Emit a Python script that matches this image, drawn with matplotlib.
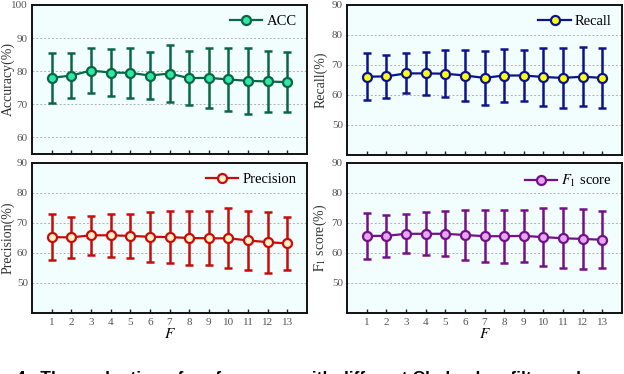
import matplotlib
matplotlib.use('Agg')
import matplotlib.pyplot as plt

plt.rcParams['font.family'] = ['Liberation Serif', 'DejaVu Serif']
plt.rcParams['mathtext.fontset'] = 'stix'

F = list(range(1, 14))

acc_mean = [78.0, 78.7, 80.2, 79.6, 79.5, 78.7, 79.3, 77.9, 78.0, 77.5, 77.1, 76.9, 76.7]
acc_std = [7.5, 6.9, 6.8, 7.0, 7.5, 7.0, 8.5, 8.1, 9.1, 9.6, 10.0, 9.3, 9.0]

rec_mean = [66.1, 66.2, 67.2, 67.2, 67.1, 66.5, 65.7, 66.5, 66.5, 66.0, 65.7, 66.1, 65.7]
rec_std = [7.75, 7.1, 6.65, 7.2, 7.9, 8.6, 8.9, 8.75, 8.4, 9.6, 10.05, 9.85, 10.1]

pre_mean = [65.3, 65.2, 65.9, 65.9, 65.7, 65.4, 65.3, 65.0, 64.9, 64.9, 64.2, 63.6, 63.2]
pre_std = [7.7, 6.95, 6.5, 7.15, 7.25, 8.35, 8.6, 9.05, 8.95, 10.0, 9.85, 10.2, 8.85]

f1_mean = [65.7, 65.7, 66.4, 66.4, 66.4, 66.0, 65.6, 65.6, 65.7, 65.3, 64.9, 64.7, 64.4]
f1_std = [7.75, 7.0, 6.45, 7.15, 7.5, 8.35, 8.7, 8.85, 8.6, 9.75, 10.0, 10.0, 9.5]

W, H = 624, 374
fig = plt.figure(figsize=(W / 100, H / 100), dpi=100)


def px_axes(left, top, right, bottom):
    return fig.add_axes([left / W, 1 - bottom / H, (right - left) / W, (bottom - top) / H])


panels = [
    # (box, mean, std, line color, face color, legend, ylabel, label center px, ylim, yticks, x labels)
    ((32, 5, 307, 154), acc_mean, acc_std, '#0b6646', '#2ee8a4', 'ACC', 'Accuracy(%)', 8,
     (55, 100), [60, 70, 80, 90, 100], False),
    ((347, 5, 622, 155), rec_mean, rec_std, '#0c138c', '#ffff14', 'Recall', 'Recall(%)', 321,
     (40, 90), [50, 60, 70, 80, 90], False),
    ((32, 163, 307, 313), pre_mean, pre_std, '#cc0a0a', '#fff2c4', 'Precision', 'Precision(%)', 8,
     (40, 90), [50, 60, 70, 80, 90], True),
    ((347, 163, 622, 313), f1_mean, f1_std, '#74108a', '#e6a6f0', '$F_1$ score',
     r'$\mathrm{F}_1$ score(%)', 320, (40, 90), [50, 60, 70, 80, 90], True),
]

for box, mean, std, col, face, lab, ylab, lab_x, ylim, yt, xlab in panels:
    ax = px_axes(*box)
    ax.set_facecolor('#f2fdfd')
    ax.errorbar(F, mean, yerr=std, fmt='none', ecolor=col, elinewidth=1.8, capsize=3,
                capthick=1.8, zorder=3)
    ax.plot(F, mean, color=col, lw=1.6, marker='o', ms=6.5, mfc=face, mec=col, mew=1.6,
            label=lab, zorder=4)
    ax.set_xlim(0, 14)
    ax.set_ylim(*ylim)
    ax.set_xticks(F)
    ax.set_yticks(yt)
    for y in yt:
        if y < ylim[1]:
            ax.axhline(y, color='#b0b0b0', lw=0.7, ls=(0, (2, 2)), zorder=1)
    ax.tick_params(axis='x', direction='in', length=3, width=1, colors='#222222',
                   labelcolor='#555555', labelsize=8)
    ax.tick_params(axis='y', length=0, labelcolor='#555555', labelsize=8, pad=3)
    if not xlab:
        ax.set_xticklabels([])
    else:
        ax.set_xlabel('$F$', fontsize=11, labelpad=0)
    ax.set_ylabel(ylab, fontsize=10, color='#333333', va='center')
    ax.yaxis.set_label_coords((lab_x - box[0]) / (box[2] - box[0]), 0.5)
    for s in ax.spines.values():
        s.set_linewidth(1.4)
        s.set_color('#111111')
    ax.legend(loc='upper right', frameon=False, fontsize=10.5, handlelength=2.2,
              handletextpad=0.3, borderaxespad=0.3)

fig.text(16 / W, -9 / H, '4.  The evaluation of performance with different Chebyshev filter orders',
         family='Liberation Sans', fontsize=12.5, fontweight='bold', va='baseline', ha='left')

fig.savefig('out.png', dpi=100)
